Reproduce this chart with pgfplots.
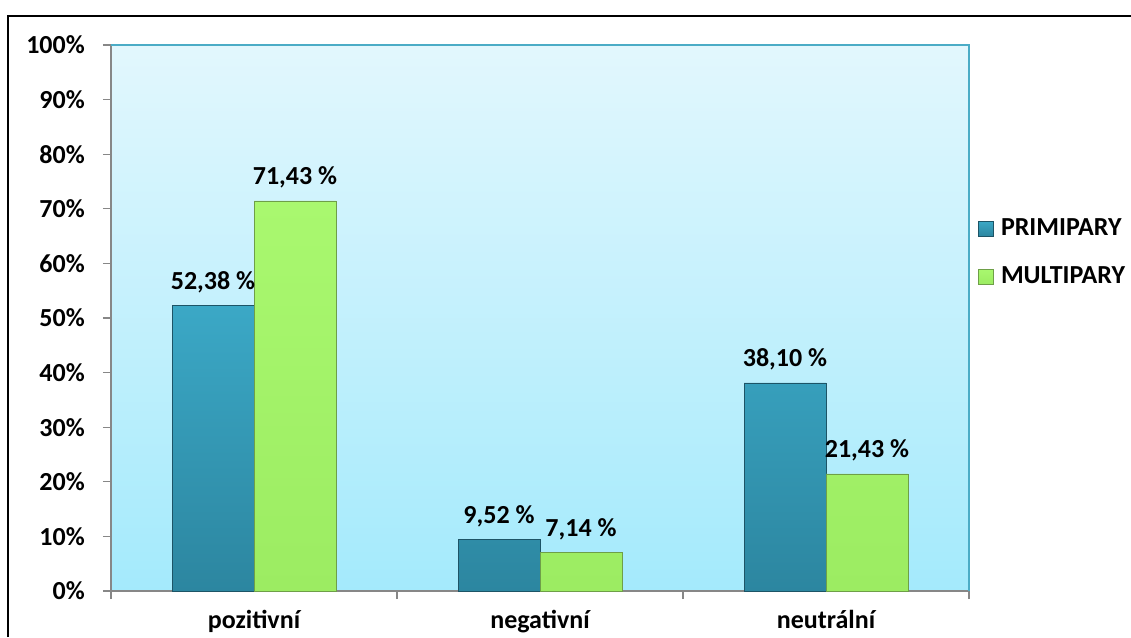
\documentclass[border=0pt]{standalone}
\usepackage{pgfplots}
\pgfplotsset{compat=1.18}
\usepackage{fontspec}
\setmainfont{Carlito}

\definecolor{bgtop}{HTML}{E2F7FD}
\definecolor{bgbot}{HTML}{A4EAFC}
\definecolor{primtop}{HTML}{3BA8C6}
\definecolor{primbot}{HTML}{2C86A0}
\definecolor{primedge}{HTML}{1D5466}
\definecolor{multtop}{HTML}{A9F86F}
\definecolor{multbot}{HTML}{9CEC62}
\definecolor{multedge}{HTML}{6E9F48}
\definecolor{frameteal}{HTML}{4BACC6}
\definecolor{axgray}{HTML}{878787}

\begin{document}
\fontsize{26}{31}\selectfont\bfseries
\begin{tikzpicture}
\path[use as bounding box] (0pt,0pt) rectangle (1131pt,637pt);
% outer chart frame
\draw[line width=1.5pt] (8pt,0pt) -- (8pt,621pt) -- (1131pt,621pt);
\begin{axis}[
  at={(111pt,46pt)}, anchor=south west,
  scale only axis, width=858pt, height=546pt,
  /pgf/number format/assume math mode=true,
  axis background/.style={shade, top color=bgtop, bottom color=bgbot},
  axis x line*=bottom, axis y line*=left,
  axis line style={draw=axgray, line width=1.2pt},
  xmin=-0.5, xmax=2.5, ymin=0, ymax=100,
  ytick={0,10,...,100},
  yticklabels={0\%,10\%,20\%,30\%,40\%,50\%,60\%,70\%,80\%,90\%,100\%},
  xtick={0,1,2},
  xticklabels={pozitivní,negativní,neutrální},
  minor xtick={-0.5,0.5,1.5,2.5},
  tick align=outside,
  major tick length=8pt, minor tick length=8pt,
  tick style={draw=axgray, line width=1.2pt},
  major x tick style={draw=none},
  yticklabel style={font=\fontsize{26}{31}\selectfont\bfseries, inner sep=0pt, anchor=east, xshift=-18pt},
  xticklabel style={font=\fontsize{26}{31}\selectfont\bfseries, inner sep=0pt, anchor=base, yshift=-29pt},
  ybar=0pt, bar width=82pt,
  nodes near coords={\pgfmathprintnumber[fixed, fixed zerofill, precision=2, use comma]{\pgfplotspointmeta} \%},
  nodes near coords style={font=\fontsize{26}{31}\selectfont\bfseries, anchor=base, inner sep=0pt, yshift=16pt, black},
  legend style={at={(1.007,0.619)}, anchor=west, draw=none, fill=none,
    font=\fontsize{26}{31}\selectfont\bfseries,
    nodes={inner sep=0pt, text height=18pt, text depth=5pt},
    row sep=25pt, column sep=7pt},
  legend cell align=left,
  legend image code/.code={\draw[#1] (0pt,-7pt) rectangle (15pt,8pt);},
  clip=false,
]
\addplot[draw=primedge, line width=0.8pt, top color=primtop, bottom color=primbot]
  coordinates {(0,52.38) (1,9.52) (2,38.10)};
\addplot[draw=multedge, line width=0.8pt, top color=multtop, bottom color=multbot]
  coordinates {(0,71.43) (1,7.14) (2,21.43)};
\legend{PRIMIPARY,MULTIPARY}
% plot area border on the top and right sides
\draw[frameteal, line width=1.5pt] (rel axis cs:0,1) -- (rel axis cs:1,1) -- (rel axis cs:1,0);
\end{axis}
\end{tikzpicture}
\end{document}
